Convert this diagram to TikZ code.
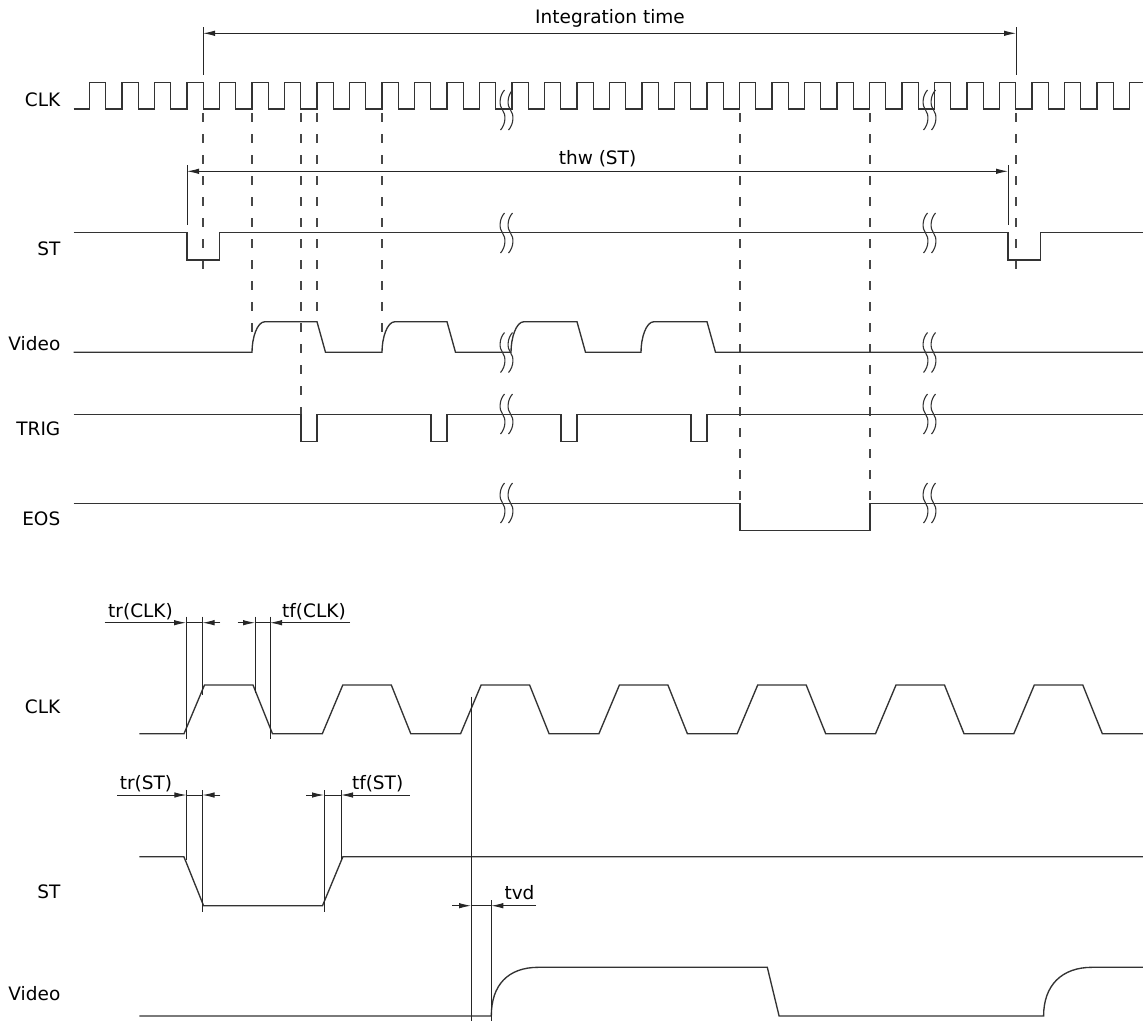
\documentclass[tikz,border=0pt]{standalone}
\usepackage{fontspec}
\setmainfont{DejaVu Sans}
\usetikzlibrary{arrows.meta}
\newcommand\brkmark[2]{%
  \draw[brk] ({#1+2},{#2-20}) .. controls ({#1-3.5},{#2-14}) and ({#1-3.5},{#2-4}) .. (#1,#2)
     .. controls ({#1+3.5},{#2+4}) and ({#1+3.5},{#2+14}) .. ({#1-2},{#2+20});%
  \draw[brk] ({#1+10},{#2-20}) .. controls ({#1+4.5},{#2-14}) and ({#1+4.5},{#2-4}) .. ({#1+8},#2)
     .. controls ({#1+11.5},{#2+4}) and ({#1+11.5},{#2+14}) .. ({#1+6},{#2+20});}
\begin{document}
\begin{tikzpicture}[x=1pt,y=-1pt,
  sig/.style={line width=1.35pt, black!80, line join=miter},
  ann/.style={line width=0.9pt, black!85},
  dsh/.style={line width=1.35pt, black!72, dash pattern=on 9pt off 12pt, dash phase=17pt},
  arr/.style={ann, -{Latex[length=12pt,width=5.5pt]}},
  dim/.style={ann, {Latex[length=12pt,width=5.5pt]}-{Latex[length=12pt,width=5.5pt]}},
  lbl/.style={font=\fontsize{18.5}{22}\selectfont, inner sep=0pt, anchor=base east},
  txt/.style={font=\fontsize{18.5}{22}\selectfont, inner sep=0pt},
  brk/.style={line width=1.1pt, black!80}
]
\useasboundingbox (0,0) rectangle (1143,1021);

% ---------------- labels ----------------
\node[lbl] (lclk)  at (60.5,106)  {CLK};
\node[lbl] (lst)   at (60.5,255)  {ST};
\node[lbl] (lvid)  at (60.5,350)  {Video};
\node[lbl] (ltrig) at (60.5,435)  {TRIG};
\node[lbl] (leos)  at (60.5,525)  {EOS};
\node[lbl] (bclk)  at (60.5,713.3) {CLK};
\node[lbl] (bst)   at (60.5,898.3) {ST};
\node[lbl] (bvid)  at (60.5,1000.7) {Video};

\node[txt, anchor=base] (tint) at (610,23.3) {Integration time};
\node[txt, anchor=base] (tthw) at (597.5,164.3) {thw (ST)};

% ---------------- top dimension arrows ----------------
\draw[ann] (203,27) -- (203,75);
\draw[ann] (1016,27) -- (1016,75);
\draw[dim] (203,33.3) -- (1016,33.3);

\draw[ann] (187,165) -- (187,225);
\draw[ann] (1008,165) -- (1008,225);
\draw[dim] (187,171.3) -- (1008,171.3);

% ---------------- dashed guides ----------------
\draw[dsh] (203,109) -- (203,275);
\draw[dsh] (252,109) -- (252,341);
\draw[dsh] (301,109) -- (301,414);
\draw[dsh] (317,109) -- (317,321.7);
\draw[dsh] (382,109) -- (382,341);
\draw[dsh] (740,109) -- (740,503.3);
\draw[dsh] (870,109) -- (870,503.3);
\draw[dsh] (1016,109) -- (1016,275);

% ---------------- top CLK ----------------
\draw[sig] (73.5,109) foreach \k in {0,...,31} { -- ({89.5+32.5*\k},109) -- ++(0,-26.3) -- ++(16.25,0) -- ++(0,26.3) }
  -- (1129.5,109) -- (1129.5,82.7) -- (1143,82.7);

% ---------------- top ST ----------------
\draw[sig] (73.5,232.7) -- (187,232.7) -- (187,260) -- (219.3,260) -- (219.3,232.7)
  -- (1008,232.7) -- (1008,260) -- (1040.7,260) -- (1040.7,232.7) -- (1143,232.7);

% ---------------- top Video ----------------
\draw[sig] (73.5,352.3) -- (252,352.3) .. controls (252,338) and (257,321.7) .. (265,321.7)
  -- (317,321.7) -- (325.5,352.3) -- (382,352.3) .. controls (382,338) and (387,321.7) .. (395,321.7)
  -- (447,321.7) -- (455.5,352.3) -- (511,352.3) .. controls (511,338) and (516,321.7) .. (524,321.7)
  -- (577,321.7) -- (585.5,352.3) -- (641,352.3) .. controls (641,338) and (646,321.7) .. (654,321.7)
  -- (707,321.7) -- (715.5,352.3) -- (1143,352.3);

% ---------------- TRIG ----------------
\draw[sig] (73.5,414.3) -- (301,414.3) -- (301,441.7) -- (317,441.7) -- (317,414.3)
  -- (431,414.3) -- (431,441.7) -- (447,441.7) -- (447,414.3)
  -- (561,414.3) -- (561,441.7) -- (577,441.7) -- (577,414.3)
  -- (691,414.3) -- (691,441.7) -- (707,441.7) -- (707,414.3) -- (1143,414.3);

% ---------------- EOS ----------------
\draw[sig] (73.5,503.3) -- (740,503.3) -- (740,530.7) -- (870,530.7) -- (870,503.3) -- (1143,503.3);

% ---------------- break marks ----------------
\foreach \bx in {502.5,925.5} {
  \brkmark{\bx}{110}
  \brkmark{\bx}{233}
  \brkmark{\bx}{352.5}
  \brkmark{\bx}{414}
  \brkmark{\bx}{503}
}

% ---------------- bottom CLK ----------------
\draw[sig] (139.3,733.7) foreach \k in {0,...,6} { -- ({184+138.3*\k},733.7) -- ++(20.5,-48.7) -- ++(48.5,0) -- ++(19.5,48.7) }
  -- (1143,733.7);

% ---------------- bottom ST ----------------
\draw[sig] (139.3,856.7) -- (183.9,856.7) -- (203.6,905.7) -- (322.5,905.7) -- (342.9,856.7) -- (1143,856.7);

% ---------------- bottom Video ----------------
\draw[sig] (139.3,1016) -- (491.3,1016) .. controls (491.3,985) and (508,967.3) .. (538.4,967.3)
  -- (767.3,967.3) -- (779.1,1016) -- (1043.6,1016) .. controls (1043.6,985) and (1062,967.3) .. (1092,967.3)
  -- (1143,967.3);

% ---------------- tr(CLK) / tf(CLK) ----------------
\node[txt, anchor=base west] (ttrclk) at (108,617.5) {tr(CLK)};
\node[txt, anchor=base west] (ttfclk) at (282,617.5) {tf(CLK)};
\draw[ann] (186,616.7) -- (186,739.3);
\draw[ann] (202.5,616.7) -- (202.5,695);
\draw[ann] (255,616.7) -- (255,693);
\draw[ann] (270,616.7) -- (270,739.3);
\draw[arr] (104.6,622.7) -- (186,622.7);
\draw[ann] (186,622.7) -- (202.5,622.7);
\draw[arr] (220.4,622.7) -- (202.5,622.7);
\draw[arr] (237.5,622.7) -- (255,622.7);
\draw[ann] (255,622.7) -- (270,622.7);
\draw[arr] (350,622.7) -- (270,622.7);

% ---------------- tr(ST) / tf(ST) ----------------
\node[txt, anchor=base west] (ttrst) at (119.6,789) {tr(ST)};
\node[txt, anchor=base west] (ttfst) at (351.8,789) {tf(ST)};
\draw[ann] (186.4,790) -- (186.4,860);
\draw[ann] (202.5,790) -- (202.5,911.7);
\draw[ann] (324,790) -- (324,911.7);
\draw[ann] (341,790) -- (341,860);
\draw[arr] (117,795) -- (186.4,795);
\draw[ann] (186.4,795) -- (202.5,795);
\draw[arr] (220.4,795) -- (202.5,795);
\draw[arr] (306.4,795) -- (324,795);
\draw[ann] (324,795) -- (341,795);
\draw[arr] (409.6,795) -- (341,795);

% ---------------- tvd ----------------
\node[txt, anchor=base west] (ttvd) at (504.3,899) {tvd};
\draw[ann] (471,696.7) -- (471,1021);
\draw[ann] (491.3,900) -- (491.3,1021);
\draw[arr] (452.3,905.7) -- (471,905.7);
\draw[ann] (471,905.7) -- (491.3,905.7);
\draw[arr] (536,905.7) -- (491.3,905.7);

\end{tikzpicture}
\end{document}
